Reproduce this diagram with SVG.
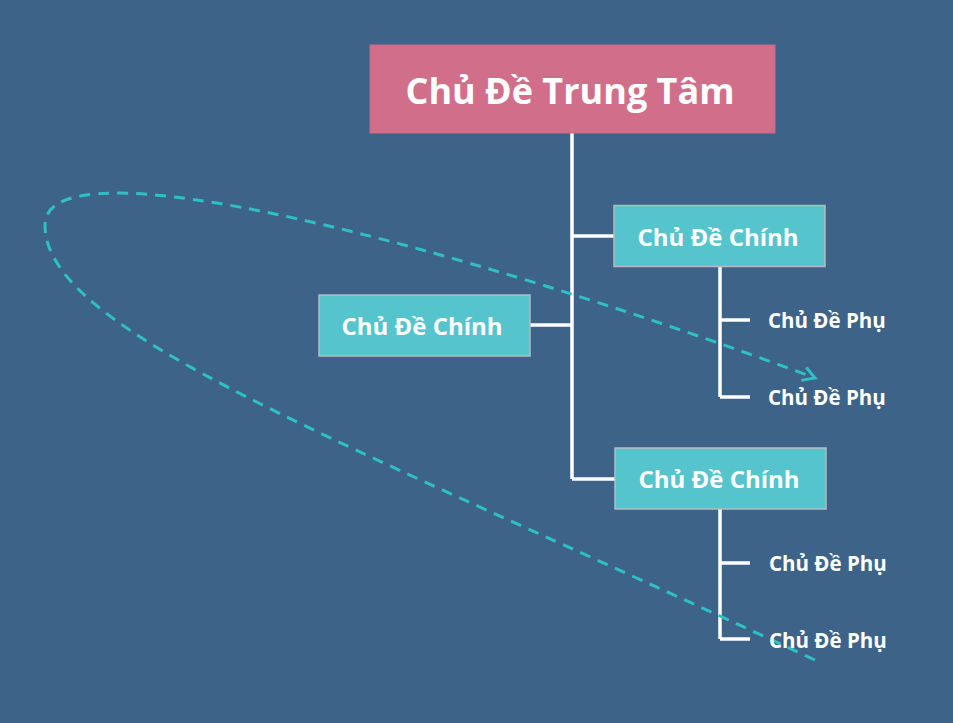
<svg xmlns="http://www.w3.org/2000/svg" width="953" height="723" viewBox="0 0 953 723">
<defs>
<style>
.bg{fill:#3e6388}
.root rect{fill:#d16e8a;stroke:#c96a87;stroke-width:1}
.main rect{fill:#55c4cc;stroke:#b5bcc0;stroke-width:1.5}
.t{font-family:"Open Sans","Liberation Sans",sans-serif;font-weight:bold;fill:#ffffff;text-anchor:middle}
.sub{font-family:"Open Sans","Liberation Sans",sans-serif;font-weight:bold;fill:#ffffff;font-size:20.5px}
.ln{stroke:#ffffff;stroke-width:3.5;fill:none}
.dash{stroke:#30bfc5;stroke-width:3;fill:none;stroke-dasharray:11 8}
</style>
<marker id="arr" markerWidth="20" markerHeight="20" refX="14" refY="8" orient="auto" markerUnits="userSpaceOnUse">
<path d="M2,1 L14,8 L2,15" fill="none" stroke="#30bfc5" stroke-width="3"/>
</marker>
</defs>
<rect class="bg" x="0" y="0" width="953" height="723"/>
<g id="connectors">
<path class="ln" d="M572,133 V479"/>
<path class="ln" d="M572,236 H614"/>
<path class="ln" d="M530,325 H572"/>
<path class="ln" d="M572,479 H615"/>
<path class="ln" d="M720,267 V397 M720,320 H750 M720,397 H750"/>
<path class="ln" d="M720,509 V639 M720,563 H750 M720,639 H750"/>
<path class="dash" d="M815,660 C335,436 45,332 45,225 C45,138 450,242 815,378" marker-end="url(#arr)"/>
</g>
<g id="root" class="root">
<rect x="370" y="45" width="405" height="88"/>
<text class="t" x="570" y="104" font-size="36">Chủ Đề Trung Tâm</text>
</g>
<g id="main1" class="main">
<rect x="614" y="205.5" width="211" height="61"/>
<text class="t" x="718" y="246" font-size="24">Chủ Đề Chính</text>
</g>
<g id="main2" class="main">
<rect x="319" y="295" width="211" height="61"/>
<text class="t" x="422" y="335" font-size="24">Chủ Đề Chính</text>
</g>
<g id="main3" class="main">
<rect x="615" y="448" width="211" height="61"/>
<text class="t" x="719" y="488" font-size="24">Chủ Đề Chính</text>
</g>
<g id="sub1"><text class="sub" x="768" y="328">Chủ Đề Phụ</text></g>
<g id="sub2"><text class="sub" x="768" y="405">Chủ Đề Phụ</text></g>
<g id="sub3"><text class="sub" x="769" y="571">Chủ Đề Phụ</text></g>
<g id="sub4"><text class="sub" x="769" y="648">Chủ Đề Phụ</text></g>
</svg>
